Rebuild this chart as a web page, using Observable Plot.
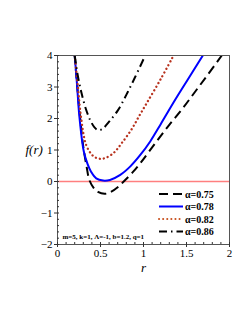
<!DOCTYPE html>
<html><head><meta charset="utf-8">
<script src="https://cdn.jsdelivr.net/npm/d3@7"></script>
<script src="https://cdn.jsdelivr.net/npm/@observablehq/plot@0.6"></script>
<style>
body{margin:0;background:#fff}
#wrap{position:relative;width:249px;height:323px}
#legend{position:absolute;left:156px;top:186px}
</style>
</head><body><div id="wrap"></div>
<script>
// series labels
const alphas = ["0.75", "0.78", "0.82", "0.86"];
// alpha = 0.75 (dashed black)
const r075 = [0.20, 0.23, 0.26, 0.30, 0.34, 0.37, 0.42, 0.47, 0.55, 0.62, 0.70, 0.77, 0.87, 0.965, 1.14, 1.30, 1.45, 1.60, 1.75, 1.91];
const f075 = [4.0, 3.0, 2.1, 1.1, 0.45, 0.05, -0.2, -0.33, -0.39, -0.33, -0.18, 0.0, 0.28, 0.59, 1.23, 1.8, 2.3, 2.85, 3.4, 4.0];
// alpha = 0.78 (solid blue)
const r078 = [0.20, 0.227, 0.255, 0.306, 0.35, 0.39, 0.45, 0.53, 0.61, 0.73, 0.847, 0.965, 1.08, 1.20, 1.37, 1.53, 1.69];
const f078 = [4.0, 3.08, 2.05, 0.95, 0.55, 0.31, 0.1, 0.03, 0.05, 0.21, 0.48, 0.85, 1.28, 1.82, 2.6, 3.3, 4.0];
// alpha = 0.82 (dotted red)
const r082 = [0.20, 0.235, 0.275, 0.333, 0.40, 0.45, 0.50, 0.55, 0.65, 0.75, 0.86, 0.95, 1.04, 1.20, 1.35];
const f082 = [4.0, 3.08, 2.01, 1.16, 0.85, 0.75, 0.72, 0.74, 0.9, 1.23, 1.65, 2.08, 2.5, 3.25, 4.0];
// alpha = 0.86 (dash-dot black)
const r086 = [0.20, 0.24, 0.28, 0.33, 0.38, 0.43, 0.47, 0.52, 0.60, 0.70, 0.80, 0.90, 1.02];
const f086 = [4.0, 3.3, 2.8, 2.3, 1.95, 1.72, 1.63, 1.66, 1.9, 2.25, 2.75, 3.3, 4.0];
// axes
const xTicks = [0, 0.5, 1, 1.5, 2];
const yTicks = [-2, -1, 0, 1, 2, 3, 4];
const xMinor = d3.range(0, 2.001, 0.1);
const yMinor = d3.range(-2, 4.001, 0.2);
const zeroLine = [0];
const paramText = "m=5, k=1, \u039B=-1, b=1.2, q=1";

const styles = [
  {stroke: "#000", dash: "9,5", width: 2, cap: "butt"},
  {stroke: "#0000ff", dash: null, width: 2, cap: "butt"},
  {stroke: "#b8321e", dash: "0.1,4", width: 2.3, cap: "round"},
  {stroke: "#000", dash: "8,4,1.5,4", width: 2, cap: "butt"}
];
const rs = [r075, r078, r082, r086];
const fs = [f075, f078, f082, f086];
const series = alphas.map((a, i) => rs[i].map((r, j) => ({r, f: fs[i][j]})));

const font = "'Liberation Serif', 'DejaVu Serif', serif";

const chart = Plot.plot({
  width: 249, height: 323,
  marginLeft: 57, marginRight: 20, marginTop: 55, marginBottom: 79,
  style: {fontFamily: font, fontSize: "10px", background: "#fff", color: "#000"},
  x: {domain: [0, 2]},
  y: {domain: [-2, 4]},
  marks: [
    Plot.ruleY(zeroLine, {stroke: "#ff7f7f", strokeWidth: 1.3, strokeOpacity: 1}),
    ...series.map((d, i) => Plot.line(d, {
      x: "r", y: "f", curve: "catmull-rom", clip: true,
      stroke: styles[i].stroke, strokeWidth: styles[i].width,
      strokeDasharray: styles[i].dash, strokeLinecap: styles[i].cap
    })),
    Plot.frame({stroke: "#555", strokeWidth: 1}),
    Plot.axisX(xTicks, {tickSize: 3, tickPadding: 2, tickFormat: d => String(d), fontSize: 11, stroke: "#333", label: null}),
    Plot.axisX(xMinor, {tickSize: -2, tickFormat: () => "", stroke: "#333", label: null}),
    Plot.axisY(yTicks, {tickSize: 3, tickPadding: 2, tickFormat: d => d < 0 ? "\u2212" + Math.abs(d) : String(d), fontSize: 11, stroke: "#333", label: null}),
    Plot.axisY(yMinor, {tickSize: -2, tickFormat: () => "", stroke: "#333", label: null}),
    Plot.text(["r"], {frameAnchor: "bottom", dy: 27, fontSize: 13, fontStyle: "italic"}),
    Plot.text(["f(r)"], {frameAnchor: "left", dx: -32, fontSize: 13, fontStyle: "italic", letterSpacing: "1.2px"}),
    Plot.text([paramText], {frameAnchor: "bottom-left", dx: 5, dy: -6, textAnchor: "start", fontSize: 7, fontWeight: "bold"})
  ]
});
document.getElementById("wrap").appendChild(chart);

// legend (inside plot area, bottom-right)
const lg = d3.select("#wrap").append("svg").attr("id", "legend").attr("width", 72).attr("height", 52);
alphas.forEach((a, i) => {
  const y = 8 + i * 12.5;
  lg.append("line").attr("x1", 3).attr("x2", 27).attr("y1", y).attr("y2", y)
    .attr("stroke", i === 2 ? "#c8501e" : styles[i].stroke).attr("stroke-width", 2)
    .attr("stroke-dasharray", i === 2 ? "0.1,4" : styles[i].dash).attr("stroke-linecap", styles[i].cap);
  lg.append("text").attr("x", 29).attr("y", y + 3.5).attr("font-family", font)
    .attr("font-size", 10).attr("font-weight", "bold").text("\u03B1=" + a);
});
</script>
</body></html>
